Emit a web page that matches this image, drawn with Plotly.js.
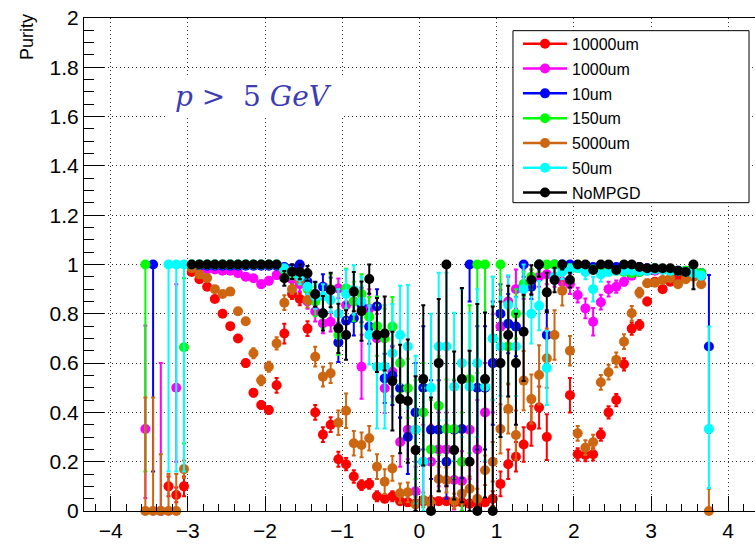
<!DOCTYPE html>
<html><head><meta charset="utf-8">
<script src="https://cdn.plot.ly/plotly-3.0.1.min.js"></script>
<style>html,body{margin:0;padding:0;background:#fff}#c{width:755px;height:551px}</style>
</head><body><div id="c"></div>
<script>
const etaBins = [
-3.55,-3.45,-3.35,-3.25,-3.15,-3.05,-2.95,-2.85,-2.75,-2.65,
-2.55,-2.45,-2.35,-2.25,-2.15,-2.05,-1.95,-1.85,-1.75,-1.65,
-1.55,-1.45,-1.35,-1.25,-1.15,-1.05,-0.95,-0.85,-0.75,-0.65,
-0.55,-0.45,-0.35,-0.25,-0.15,-0.05,0.05,0.15,0.25,0.35,
0.45,0.55,0.65,0.75,0.85,0.95,1.05,1.15,1.25,1.35,
1.45,1.55,1.65,1.75,1.85,1.95,2.05,2.15,2.25,2.35,
2.45,2.55,2.65,2.75,2.85,2.95,3.05,3.15,3.25,3.35,
3.45,3.55,3.65,3.75];

const seriesNames = ["10000um","1000um","10um","150um","5000um","50um","NoMPGD"];
const seriesColors = ["#ff0000","#ff00ff","#0000ff","#00ff00","#cc6611","#00ffff","#000000"];

const red_y = [
null,null,null,0.10,0.065,0.10,0.97,0.94,0.91,0.86,
0.80,0.75,0.70,0.60,0.48,0.43,0.41,0.51,0.72,0.88,
0.86,0.74,0.40,0.31,0.35,0.21,0.19,0.14,0.105,0.11,
0.06,0.05,0.06,0.04,0.035,0.03,0.04,0.04,0.04,0.04,
0.035,0.035,0.03,0.03,0.035,0.05,0.11,0.19,0.22,0.27,
0.345,0.42,0.30,null,null,0.47,0.23,0.227,0.23,0.31,
0.40,0.45,0.595,0.74,0.755,0.85,0.93,0.90,0.93,0.95,
0.96,0.96,0.95,null];
const red_eu = [
0,0,0,0.04,0.03,0.04,0.01,0.01,0.01,0.01,
0.01,0.01,0.01,0.015,0.015,0.015,0.015,0.03,0.04,0.02,
0.025,0.03,0.03,0.03,0.03,0.03,0.025,0.025,0.02,0.02,
0.02,0.015,0.02,0.015,0.015,0.015,0.015,0.015,0.015,0.015,
0.015,0.015,0.015,0.015,0.015,0.03,0.05,0.06,0.06,0.07,
0.08,0.085,0.093,0,0,0.07,0.025,0.025,0.025,0.025,
0.025,0.025,0.025,0.025,0.02,0.015,0.01,0.01,0.01,0.01,
0.01,0.01,0.01,0];
const red_ed = red_eu;

const magenta_y = [
0.333,null,0,null,0.5,null,0.99,0.985,0.98,0.98,
0.975,0.975,0.965,0.95,0.944,0.92,0.934,0.957,0.96,0.94,
0.92,0.85,0.809,0.761,0.768,0.903,0.835,0.85,0.585,0.82,
0.70,0.498,0.565,0.28,0.33,0.08,0.2,0.2,0.25,0.25,
0.126,0.122,0.33,0.25,0.4,0.6,0.748,0.85,0.9,0.92,
0.93,0.95,0.96,0.95,0.93,0.92,0.876,0.822,0.768,0.847,
0.90,0.91,0.93,0.955,0.97,0.975,0.975,0.98,0.98,0.975,
0.97,0.97,0.965,null];
const magenta_eu = [
0.42,0,0.6,0,0.42,0,0.01,0.01,0.01,0.01,
0.01,0.01,0.01,0.01,0.01,0.015,0.015,0.015,0.015,0.02,
0.03,0.03,0.04,0.04,0.04,0.04,0.05,0.05,0.13,0.08,
0.1,0.1,0.1,0.1,0.12,0.1,0.15,0.15,0.15,0.15,
0.12,0.12,0.2,0.2,0.2,0.2,0.15,0.1,0.08,0.06,
0.05,0.04,0.04,0.04,0.04,0.04,0.03,0.04,0.056,0.03,
0.03,0.025,0.015,0.015,0.01,0.01,0.01,0.01,0.01,0.01,
0.01,0.01,0.01,0];
const magenta_ed = [
0.28,0,0,0,0.3,0,0.01,0.01,0.01,0.01,
0.01,0.01,0.01,0.01,0.01,0.015,0.015,0.015,0.015,0.02,
0.03,0.03,0.04,0.04,0.04,0.04,0.05,0.05,0.13,0.08,
0.1,0.1,0.1,0.1,0.12,0.1,0.15,0.15,0.15,0.15,
0.12,0.12,0.2,0.2,0.2,0.2,0.15,0.1,0.08,0.06,
0.05,0.04,0.04,0.04,0.04,0.04,0.03,0.04,0.056,0.03,
0.03,0.025,0.015,0.015,0.01,0.01,0.01,0.01,0.01,0.01,
0.01,0.01,0.01,0];

const blue_y = [
null,1.0,null,null,null,null,0.995,0.995,0.995,0.995,
0.995,0.995,0.995,0.995,0.995,0.995,0.995,0.995,0.99,0.985,
1.0,0.93,0.88,0.91,0.897,0.684,0.772,0.782,0.836,0.748,
0.83,0.538,0.55,0.498,0.30,0.4,0.5,0.33,0.33,0.2,
0.33,0.333,1.0,0.5,0.5,0.6,0.8,0.76,0.748,1.0,
0.91,1.0,0.714,1.0,1.0,1.0,0.995,0.995,0.99,0.995,
0.995,0.99,0.99,0.99,0.99,0.985,0.985,0.98,0.98,0.975,
0.975,0.97,0.965,0.667];
const blue_eu = [
0,0,0,0,0,0,0.005,0.005,0.005,0.005,
0.005,0.005,0.005,0.005,0.005,0.005,0.005,0.005,0.01,0.01,
0.01,0.05,0.05,0.05,0.05,0.08,0.07,0.07,0.07,0.07,
0.07,0.1,0.12,0.12,0.15,0.2,0.25,0.2,0.2,0.15,
0.2,0.2,0,0.25,0.25,0.25,0.12,0.12,0.12,0,
0.05,0,0.1,0,0,0,0.005,0.005,0.01,0.005,
0.005,0.01,0.01,0.01,0.01,0.01,0.01,0.01,0.01,0.01,
0.01,0.01,0.01,0.29];
const blue_ed = [
0,0.84,0,0,0,0,0.005,0.005,0.005,0.005,
0.005,0.005,0.005,0.005,0.005,0.005,0.005,0.005,0.01,0.01,
0.01,0.05,0.05,0.05,0.05,0.08,0.07,0.07,0.07,0.07,
0.07,0.1,0.12,0.12,0.15,0.2,0.25,0.2,0.2,0.15,
0.2,0.2,0.15,0.25,0.25,0.25,0.12,0.12,0.12,0.05,
0.05,0.02,0.1,0.01,0.01,0.01,0.01,0.01,0.01,0.01,
0.01,0.01,0.01,0.01,0.01,0.01,0.01,0.01,0.01,0.01,
0.01,0.01,0.01,0.35];

const green_y = [
1.0,null,null,null,null,0.664,1.0,1.0,1.0,1.0,
1.0,1.0,1.0,1.0,1.0,1.0,1.0,1.0,0.978,0.96,
0.95,0.9,0.85,0.8,0.9,0.714,0.903,0.85,0.88,0.788,
0.75,0.7,0.748,0.6,0.498,0.33,0.4,0.25,0.427,0.333,
0.333,0.2,0.535,1.0,1.0,0.7,1.0,0.667,0.8,0.92,
0.95,1.0,1.0,1.0,0.99,0.985,0.985,0.98,0.98,0.98,
0.975,0.975,0.97,0.965,0.97,0.98,0.985,0.98,0.98,0.975,
0.975,0.97,0.965,null];
const green_eu = [
0,0,0,0,0,0.28,0,0,0,0,
0,0,0,0,0,0,0,0,0.02,0.02,
0.02,0.06,0.06,0.06,0.06,0.08,0.08,0.08,0.08,0.08,
0.12,0.12,0.12,0.12,0.12,0.2,0.2,0.2,0.2,0.2,
0.2,0.2,0.3,0,0,0.25,0,0.15,0.1,0.05,
0.03,0,0,0,0.01,0.01,0.01,0.01,0.01,0.01,
0.01,0.01,0.01,0.01,0.01,0.01,0.01,0.01,0.01,0.01,
0.01,0.01,0.01,0];
const green_ed = [
0.84,0,0,0,0,0.39,0.005,0.005,0.005,0.005,
0.005,0.005,0.005,0.005,0.005,0.005,0.005,0.005,0.02,0.02,
0.02,0.06,0.06,0.06,0.06,0.08,0.08,0.08,0.08,0.08,
0.12,0.12,0.12,0.12,0.12,0.2,0.2,0.2,0.2,0.2,
0.2,0.2,0.3,0.44,0.45,0.25,0.3,0.15,0.1,0.05,
0.03,0.03,0.01,0.01,0.01,0.01,0.01,0.01,0.01,0.01,
0.01,0.01,0.01,0.01,0.01,0.01,0.01,0.01,0.01,0.01,
0.01,0.01,0.01,0];

const brown_y = [
0,0,0,0,0,0.17,0.985,0.96,0.945,0.90,
0.88,0.89,0.81,0.77,0.64,0.53,0.585,0.68,0.845,0.90,
0.937,0.856,0.626,0.545,0.559,0.358,0.407,0.275,0.268,0.295,
0.18,0.119,0.173,0.072,0.076,0.027,0.045,0.03,0.13,0.125,
0.04,0.07,0.09,0.05,0.165,0.2,0.333,0.414,0.308,0.529,
0.454,0.552,0.62,0.714,0.894,0.65,0.315,0.257,0.279,0.522,
0.563,0.613,0.687,0.802,0.886,0.924,0.926,0.937,0.944,0.92,
0.94,0.95,0.92,0];
const brown_eu = [
0.46,0.46,0.23,0.15,0.15,0.035,0.012,0.012,0.012,0.012,
0.012,0.012,0.012,0.012,0.02,0.02,0.02,0.025,0.03,0.02,
0.02,0.03,0.04,0.04,0.04,0.05,0.07,0.05,0.05,0.05,
0.05,0.05,0.05,0.04,0.04,0.03,0.03,0.03,0.05,0.05,
0.03,0.04,0.05,0.04,0.06,0.08,0.1,0.1,0.1,0.12,
0.1,0.12,0.12,0.1,0.06,0.06,0.03,0.03,0.03,0.03,
0.03,0.03,0.03,0.03,0.02,0.015,0.012,0.012,0.012,0.012,
0.012,0.012,0.012,0.09];
const brown_ed = brown_eu;

const cyan_y = [
null,null,null,1.0,1.0,1.0,1.0,1.0,1.0,1.0,
1.0,1.0,1.0,1.0,1.0,1.0,1.0,1.0,0.985,0.97,
0.95,0.91,0.87,0.87,0.856,0.8,0.88,0.897,0.85,0.714,
0.585,0.585,0.64,0.714,0.667,0.33,0.2,0.5,0.667,0.667,
0.504,0.6,0.504,0.6,0.504,0.7,0.667,0.836,0.667,0.9,
0.8,0.833,0.58,0.95,0.971,0.98,0.99,0.97,0.9,0.96,
0.97,0.975,0.975,0.975,0.975,0.975,0.98,0.98,0.975,0.975,
0.97,0.965,0.955,0.333];
const cyan_eu = [
0,0,0,0,0,0,0,0,0,0,
0,0,0,0,0,0,0,0,0.01,0.02,
0.03,0.03,0.05,0.05,0.05,0.1,0.1,0.1,0.1,0.12,
0.25,0.25,0.2,0.2,0.25,0.3,0.3,0.3,0.3,0.3,
0.3,0.3,0.3,0.3,0.3,0.25,0.2,0.12,0.2,0.1,
0.12,0.1,0.15,0.03,0.03,0.02,0.01,0.03,0.05,0.03,
0.015,0.015,0.015,0.015,0.015,0.015,0.015,0.015,0.015,0.015,
0.015,0.015,0.015,0.415];
const cyan_ed = [
0,0,0,0.84,0.84,0.84,0.005,0.005,0.005,0.005,
0.005,0.005,0.005,0.005,0.005,0.005,0.005,0.005,0.01,0.02,
0.03,0.03,0.05,0.05,0.05,0.1,0.1,0.1,0.1,0.12,
0.25,0.25,0.2,0.2,0.25,0.3,0.3,0.3,0.3,0.3,
0.3,0.3,0.3,0.3,0.3,0.25,0.2,0.12,0.2,0.1,
0.12,0.1,0.15,0.03,0.03,0.03,0.02,0.03,0.05,0.03,
0.015,0.015,0.015,0.015,0.015,0.015,0.015,0.015,0.015,0.015,
0.015,0.015,0.015,0.24];

const black_y = [
null,null,null,null,null,null,1.0,1.0,1.0,1.0,
1.0,1.0,1.0,1.0,1.0,1.0,1.0,1.0,0.944,0.971,
0.97,0.964,0.879,0.802,0.897,0.741,0.714,0.89,0.811,0.941,
0.714,0.72,0.527,0.454,0.446,0.247,0.535,0.0,0.6,1.0,
0.247,0.535,0.2,0.0,0.535,0.0,0.6,0.714,0.6,0.727,
0.937,1.0,0.887,0.937,1.0,0.937,1.0,1.0,0.978,1.0,
1.0,0.978,1.0,1.0,0.99,0.985,0.985,0.985,0.985,0.975,
0.97,1.0,null,null];
const black_eu = [
0,0,0,0,0,0,0,0,0,0,
0,0,0,0,0,0,0,0,0.03,0.03,
0.03,0.03,0.05,0.07,0.07,0.1,0.1,0.08,0.12,0.06,
0.15,0.15,0.2,0.22,0.25,0.3,0.3,0.46,0.26,0,
0.4,0.37,0.45,0.84,0.27,0.83,0.25,0.2,0.2,0.15,
0.06,0,0.08,0.05,0,0.03,0,0,0.01,0,
0,0.01,0,0,0.01,0.01,0.01,0.01,0.01,0.01,
0.01,0,0,0];
const black_ed = [
0,0,0,0,0,0,0.005,0.005,0.005,0.005,
0.005,0.005,0.005,0.005,0.005,0.005,0.005,0.005,0.03,0.03,
0.03,0.03,0.05,0.07,0.07,0.1,0.1,0.08,0.12,0.06,
0.15,0.15,0.2,0.22,0.25,0.25,0.35,0,0.52,0.9,
0.2,0.5,0.2,0,0.48,0,0.3,0.25,0.25,0.2,
0.06,0.05,0.08,0.05,0.02,0.03,0.01,0.01,0.01,0.01,
0.01,0.01,0.01,0.01,0.01,0.01,0.01,0.01,0.01,0.01,
0.01,0.1,0,0];

const yTickVals = [0,0.2,0.4,0.6,0.8,1,1.2,1.4,1.6,1.8,2];
const xTickVals = [-4,-3,-2,-1,0,1,2,3,4];

const allY = [red_y, magenta_y, blue_y, green_y, brown_y, cyan_y, black_y];
const allEU = [red_eu, magenta_eu, blue_eu, green_eu, brown_eu, cyan_eu, black_eu];
const allED = [red_ed, magenta_ed, blue_ed, green_ed, brown_ed, cyan_ed, black_ed];

const FONT = "Liberation Sans, Arial, sans-serif";
const traces = [];
allY.forEach((ys, k) => {
  const up = allEU[k].map((e, i) => ys[i] == null ? 0 : Math.min(e, 1 - ys[i]));
  const dn = allED[k].map((e, i) => ys[i] == null ? 0 : Math.min(e, ys[i]));
  traces.push({
    type: 'scatter', mode: 'markers', x: etaBins, y: ys,
    marker: {color: seriesColors[k], size: 10, line: {width: 0}},
    error_y: {type: 'data', symmetric: false, array: up, arrayminus: dn,
              color: seriesColors[k], thickness: 2, width: 2},
    cliponaxis: false, showlegend: false, hoverinfo: 'skip'
  });
});
seriesNames.forEach((n, k) => {
  traces.push({
    type: 'scatter', mode: 'lines+markers', x: [null], y: [null], name: n,
    legendgroup: 'g' + k,
    line: {color: seriesColors[k], width: 2.5},
    marker: {color: seriesColors[k], size: 10}
  });
});

const layout = {
  width: 755, height: 551,
  margin: {l: 84, r: 0, t: 18, b: 40},
  paper_bgcolor: '#fff', plot_bgcolor: '#fff',
  showlegend: true,
  font: {family: FONT, color: '#000'},
  xaxis: {
    range: [-4.345, 4.347], tickvals: xTickVals, ticktext: xTickVals.map(v => v < 0 ? '\u2212' + Math.abs(v) : String(v)),
    ticks: 'inside', ticklen: 15, tickwidth: 1, tickcolor: '#000',
    minor: {dtick: 0.2, tick0: 0, ticks: 'inside', ticklen: 7.5, tickcolor: '#000', showgrid: false},
    showline: true, linecolor: '#000', linewidth: 1, mirror: true,
    showgrid: true, gridcolor: '#333', gridwidth: 1, griddash: '1px,3px',
    zeroline: false, tickfont: {size: 21, family: FONT}, ticklabelstandoff: 1
  },
  yaxis: {
    range: [0, 2], tickvals: yTickVals,
    ticks: 'inside', ticklen: 20, tickwidth: 1, tickcolor: '#000',
    minor: {dtick: 0.05, tick0: 0, ticks: 'inside', ticklen: 10, tickcolor: '#000', showgrid: false},
    showline: true, linecolor: '#000', linewidth: 1, mirror: true,
    showgrid: true, gridcolor: '#333', gridwidth: 1, griddash: '1px,3px',
    zeroline: false, tickfont: {size: 21, family: FONT}
  },
  legend: {
    x: 0.6468, y: 0.982, xanchor: 'left', yanchor: 'top',
    bgcolor: 'rgba(0,0,0,0)', borderwidth: 0,
    font: {family: FONT, size: 16, color: '#000'},
    traceorder: 'grouped', tracegroupgap: 1, itemwidth: 44
  },
  shapes: [
    {type: 'rect', xref: 'paper', yref: 'paper', x0: 0.6393, x1: 0.9911, y0: 0.6254, y1: 0.9743,
     fillcolor: '#fff', line: {color: '#000', width: 1}, layer: 'above'},
    {type: 'rect', xref: 'paper', yref: 'paper', x0: 0.1207, x1: 0.3875, y0: 0.797, y1: 0.882,
     fillcolor: '#fff', line: {width: 0}, layer: 'above'}
  ],
  annotations: [
    {xref: 'paper', yref: 'paper', x: -0.085, y: 1.012, xanchor: 'center', yanchor: 'top',
     text: 'Purity', textangle: -90, showarrow: false, font: {family: FONT, size: 18, color: '#000'}},
    {xref: 'paper', yref: 'paper', x: 0.2527, y: 0.84, xanchor: 'center', yanchor: 'middle',
     text: '<i>p</i> >  5 <i>GeV</i>', showarrow: false,
     font: {family: 'DejaVu Serif, Liberation Serif, serif', size: 28, color: '#3c3cb4'}}
  ]
};

Plotly.newPlot('c', traces, layout, {staticPlot: true, displayModeBar: false});
</script>
</body></html>
